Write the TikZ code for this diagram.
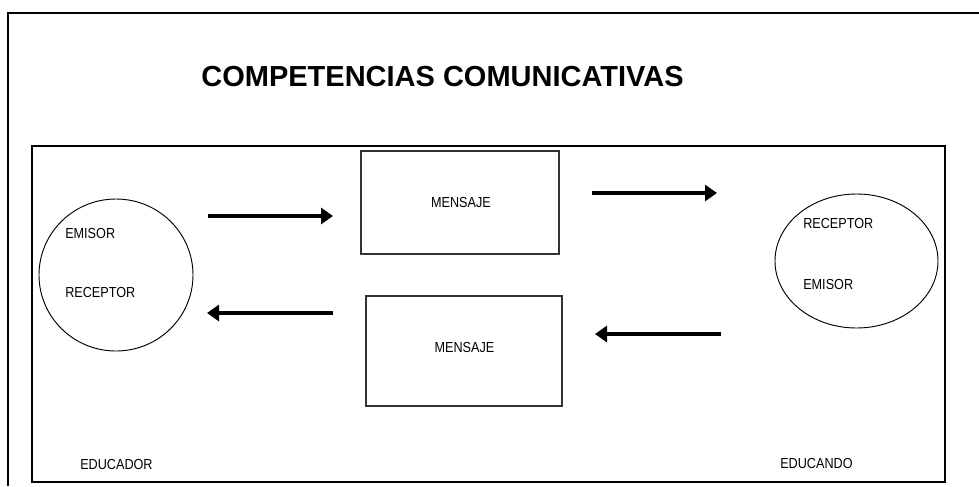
\documentclass[tikz,border=0pt]{standalone}
\usepackage{fontspec}
\setmainfont{Liberation Sans}
\newfontfamily\narrowfont[FakeStretch=0.87]{Liberation Sans}
\usetikzlibrary{arrows.meta,shapes.geometric}

\tikzset{
  msgbox/.style={rectangle, draw=black!80, line width=0.8pt, inner sep=0pt},
  party/.style={ellipse, draw, line width=0.7pt, inner sep=0pt},
  lbl/.style={anchor=west, inner sep=0pt, font=\narrowfont\fontsize{10.9}{13}\selectfont},
  msgtext/.style={inner sep=0pt, font=\narrowfont\fontsize{10.9}{13}\selectfont},
  flow/.style={line width=3.6pt, -{Triangle[length=9pt,width=12pt]}}
}

\begin{document}
\begin{tikzpicture}[x=0.75pt, y=-0.75pt]
\useasboundingbox (0,0) rectangle (979,486);
% frames
\draw[line width=1.2pt] (8,486) -- (8,13) -- (979,13);
\draw[line width=1.6pt] (32,146) rectangle (945,482);

\node[font=\fontsize{21.75}{26}\selectfont\bfseries] (title) at (442.5,77) {COMPETENCIAS COMUNICATIVAS};

% educador side
\node[party, minimum width=115.5pt, minimum height=114pt] (educador) at (116,275) {};
\node[lbl] (emi1) at (65,233) {EMISOR};
\node[lbl] (rec1) at (65,292) {RECEPTOR};

% educando side
\node[party, minimum width=122.25pt, minimum height=100.5pt] (educando) at (856.5,261) {};
\node[lbl] (rec2) at (803,223) {RECEPTOR};
\node[lbl] (emi2) at (803,284) {EMISOR};

% mensajes
\node[msgbox, minimum width=148.5pt, minimum height=77.25pt] (msg1) at (460,202.5) {};
\node[msgtext] (msg1txt) at (461,202) {MENSAJE};
\node[msgbox, minimum width=147pt, minimum height=82.5pt] (msg2) at (464,351) {};
\node[msgtext] (msg2txt) at (464.5,347) {MENSAJE};

\node[lbl] (edor) at (80,464) {EDUCADOR};
\node[lbl] (edo) at (780,463) {EDUCANDO};

% arrows
\coordinate (a1s) at (208,216);
\coordinate (a1e) at (333,216);
\coordinate (a2s) at (592,193);
\coordinate (a2e) at (717,193);
\coordinate (a3s) at (721,334);
\coordinate (a3e) at (595,334);
\coordinate (a4s) at (333,313);
\coordinate (a4e) at (207,313);
\draw[flow] (a1s) -- (a1e);
\draw[flow] (a2s) -- (a2e);
\draw[flow] (a3s) -- (a3e);
\draw[flow] (a4s) -- (a4e);
\end{tikzpicture}
\end{document}
